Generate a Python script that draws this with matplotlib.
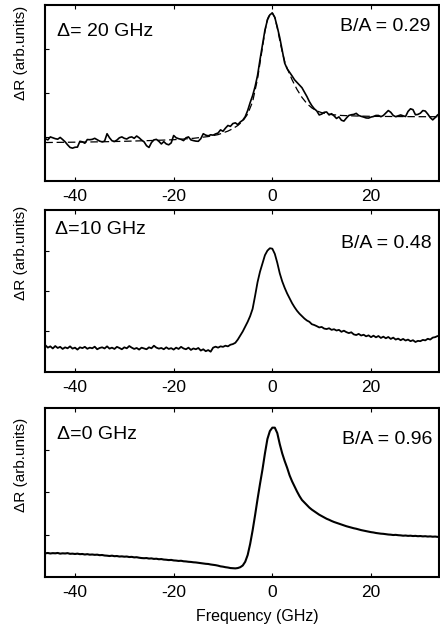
import numpy as np
import matplotlib
matplotlib.use('Agg')
import matplotlib.pyplot as plt
import matplotlib.transforms as mtransforms

plt.rcParams['font.family'] = ['Liberation Sans', 'DejaVu Sans']

# frequency grid of the traces [GHz]
freq = [
    -46.0, -45.5, -45.0, -44.5, -44.0, -43.5, -43.0, -42.5, -42.0, -41.5,
    -41.0, -40.5, -40.0, -39.5, -39.0, -38.5, -38.0, -37.5, -37.0, -36.5,
    -36.0, -35.5, -35.0, -34.5, -34.0, -33.5, -33.0, -32.5, -32.0, -31.5,
    -31.0, -30.5, -30.0, -29.5, -29.0, -28.5, -28.0, -27.5, -27.0, -26.5,
    -26.0, -25.5, -25.0, -24.5, -24.0, -23.5, -23.0, -22.5, -22.0, -21.5,
    -21.0, -20.5, -20.0, -19.5, -19.0, -18.5, -18.0, -17.5, -17.0, -16.5,
    -16.0, -15.5, -15.0, -14.5, -14.0, -13.5, -13.0, -12.5, -12.0, -11.5,
    -11.0, -10.5, -10.0, -9.5, -9.0, -8.5, -8.0, -7.5, -7.0, -6.5,
    -6.0, -5.5, -5.0, -4.5, -4.0, -3.5, -3.0, -2.5, -2.0, -1.5,
    -1.0, -0.5, 0.0, 0.5, 1.0, 1.5, 2.0, 2.5, 3.0, 3.5,
    4.0, 4.5, 5.0, 5.5, 6.0, 6.5, 7.0, 7.5, 8.0, 8.5,
    9.0, 9.5, 10.0, 10.5, 11.0, 11.5, 12.0, 12.5, 13.0, 13.5,
    14.0, 14.5, 15.0, 15.5, 16.0, 16.5, 17.0, 17.5, 18.0, 18.5,
    19.0, 19.5, 20.0, 20.5, 21.0, 21.5, 22.0, 22.5, 23.0, 23.5,
    24.0, 24.5, 25.0, 25.5, 26.0, 26.5, 27.0, 27.5, 28.0, 28.5,
    29.0, 29.5, 30.0, 30.5, 31.0, 31.5, 32.0, 32.5, 33.0, 33.5,
    34.0]

# Delta = 20 GHz, measured
dR_20 = [
    0.240, 0.233, 0.250, 0.245, 0.240, 0.237, 0.247, 0.235, 0.222, 0.205,
    0.190, 0.186, 0.191, 0.192, 0.225, 0.222, 0.214, 0.235, 0.234, 0.236,
    0.242, 0.234, 0.226, 0.222, 0.226, 0.268, 0.245, 0.228, 0.224, 0.232,
    0.245, 0.250, 0.242, 0.238, 0.247, 0.250, 0.242, 0.255, 0.245, 0.232,
    0.222, 0.200, 0.190, 0.218, 0.233, 0.236, 0.225, 0.210, 0.223, 0.210,
    0.205, 0.216, 0.258, 0.245, 0.240, 0.236, 0.229, 0.245, 0.250, 0.233,
    0.229, 0.226, 0.225, 0.240, 0.268, 0.260, 0.256, 0.262, 0.260, 0.267,
    0.272, 0.290, 0.282, 0.300, 0.315, 0.310, 0.326, 0.330, 0.320, 0.335,
    0.345, 0.365, 0.400, 0.445, 0.485, 0.536, 0.600, 0.690, 0.775, 0.858,
    0.915, 0.945, 0.955, 0.930, 0.875, 0.815, 0.744, 0.670, 0.638, 0.618,
    0.597, 0.575, 0.560, 0.545, 0.530, 0.505, 0.480, 0.451, 0.428, 0.410,
    0.398, 0.375, 0.380, 0.390, 0.392, 0.375, 0.382, 0.370, 0.355, 0.364,
    0.345, 0.340, 0.357, 0.372, 0.376, 0.378, 0.384, 0.372, 0.367, 0.363,
    0.358, 0.357, 0.363, 0.366, 0.372, 0.372, 0.365, 0.372, 0.386, 0.400,
    0.390, 0.372, 0.365, 0.370, 0.375, 0.370, 0.366, 0.395, 0.410, 0.405,
    0.376, 0.378, 0.385, 0.400, 0.397, 0.380, 0.360, 0.347, 0.360, 0.375,
    0.384]

# Delta = 20 GHz, fit (dashed)
fit_freq = [-46, -40, -35, -30, -25, -20, -16, -13, -11, -9, -8, -7, -6, -5,
            -4, -3, -2.5, -2, -1.5, -1, -0.5, 0, 0.5, 1, 1.5, 2, 2.5, 3, 4,
            5, 6, 7, 8, 9, 10, 12, 14, 17, 20, 25, 30, 34]
fit_20 = [0.218, 0.220, 0.222, 0.225, 0.229, 0.234, 0.242, 0.252, 0.263,
          0.283, 0.297, 0.315, 0.340, 0.380, 0.450, 0.580, 0.670, 0.760,
          0.850, 0.920, 0.952, 0.955, 0.930, 0.870, 0.800, 0.735, 0.680,
          0.640, 0.575, 0.520, 0.475, 0.440, 0.415, 0.398, 0.388, 0.377,
          0.372, 0.369, 0.367, 0.366, 0.365, 0.365]

# Delta = 10 GHz, measured
dR_10 = [
    0.165, 0.150, 0.158, 0.145, 0.160, 0.148, 0.155, 0.142, 0.152, 0.146,
    0.158, 0.144, 0.150, 0.138, 0.152, 0.147, 0.155, 0.143, 0.150, 0.146,
    0.156, 0.140, 0.148, 0.152, 0.145, 0.158, 0.144, 0.150, 0.142, 0.155,
    0.148, 0.140, 0.152, 0.146, 0.160, 0.150, 0.142, 0.148, 0.138, 0.150,
    0.145, 0.140, 0.152, 0.146, 0.162, 0.150, 0.144, 0.148, 0.140, 0.152,
    0.142, 0.147, 0.138, 0.150, 0.142, 0.155, 0.145, 0.140, 0.150, 0.136,
    0.145, 0.140, 0.148, 0.132, 0.140, 0.128, 0.135, 0.125, 0.150, 0.156,
    0.150, 0.158, 0.155, 0.162, 0.158, 0.168, 0.172, 0.180, 0.200, 0.225,
    0.250, 0.280, 0.310, 0.345, 0.390, 0.470, 0.555, 0.620, 0.670, 0.722,
    0.750, 0.765, 0.762, 0.730, 0.675, 0.610, 0.560, 0.520, 0.485, 0.455,
    0.425, 0.400, 0.378, 0.360, 0.345, 0.330, 0.318, 0.310, 0.295, 0.290,
    0.283, 0.275, 0.278, 0.268, 0.265, 0.270, 0.260, 0.264, 0.256, 0.260,
    0.248, 0.255, 0.246, 0.240, 0.245, 0.232, 0.228, 0.235, 0.225, 0.230,
    0.220, 0.226, 0.215, 0.224, 0.214, 0.222, 0.210, 0.218, 0.208, 0.216,
    0.204, 0.212, 0.200, 0.206, 0.196, 0.204, 0.194, 0.200, 0.190, 0.196,
    0.185, 0.192, 0.190, 0.198, 0.195, 0.205, 0.200, 0.212, 0.215, 0.222,
    0.218]

# Delta = 0 GHz, measured
dR_0 = [
    0.140, 0.142, 0.139, 0.141, 0.140, 0.142, 0.138, 0.140, 0.139, 0.141,
    0.137, 0.138, 0.136, 0.138, 0.135, 0.136, 0.133, 0.135, 0.132, 0.133,
    0.131, 0.132, 0.129, 0.130, 0.127, 0.126, 0.124, 0.126, 0.123, 0.124,
    0.121, 0.122, 0.120, 0.121, 0.118, 0.119, 0.116, 0.117, 0.114, 0.112,
    0.111, 0.112, 0.109, 0.110, 0.107, 0.108, 0.105, 0.106, 0.103, 0.102,
    0.100, 0.101, 0.098, 0.097, 0.095, 0.096, 0.093, 0.092, 0.090, 0.089,
    0.087, 0.086, 0.084, 0.082, 0.080, 0.078, 0.077, 0.074, 0.072, 0.070,
    0.067, 0.063, 0.061, 0.058, 0.056, 0.053, 0.052, 0.051, 0.053, 0.058,
    0.068, 0.090, 0.130, 0.195, 0.275, 0.365, 0.460, 0.550, 0.635, 0.730,
    0.815, 0.862, 0.882, 0.882, 0.850, 0.785, 0.730, 0.685, 0.645, 0.600,
    0.565, 0.535, 0.505, 0.478, 0.455, 0.440, 0.425, 0.410, 0.398, 0.388,
    0.378, 0.368, 0.360, 0.352, 0.344, 0.338, 0.331, 0.325, 0.320, 0.315,
    0.310, 0.305, 0.300, 0.296, 0.292, 0.288, 0.285, 0.281, 0.277, 0.274,
    0.271, 0.268, 0.265, 0.263, 0.260, 0.258, 0.256, 0.255, 0.253, 0.251,
    0.250, 0.248, 0.249, 0.247, 0.246, 0.244, 0.245, 0.243, 0.244, 0.242,
    0.243, 0.241, 0.242, 0.240, 0.241, 0.239, 0.240, 0.238, 0.239, 0.237,
    0.238]

detuning_labels = ['\u0394= 20 GHz', '\u0394=10 GHz', '\u0394=0 GHz']
ratio_labels = ['B/A = 0.29', 'B/A = 0.48', 'B/A = 0.96']
xticks = [-40, -20, 0, 20]


fig = plt.figure(figsize=(4.40, 6.39), dpi=100)

# axes boxes [left, bottom, width, height] in figure fraction
boxes = [[0.102, 0.717, 0.896, 0.275],
         [0.102, 0.418, 0.896, 0.253],
         [0.102, 0.097, 0.896, 0.265]]
ax = [fig.add_axes(b) for b in boxes]

ax[0].plot(freq, dR_20, color='black', lw=1.2)
ax[0].plot(fit_freq, fit_20, color='black', lw=0.9, linestyle=(0, (6, 3)))
ax[1].plot(freq, dR_10, color='black', lw=1.3)
ax[2].plot(freq, dR_0, color='black', lw=1.5)

# text positions (axes fraction)
det_pos = [(0.030, 0.848), (0.025, 0.883), (0.030, 0.840)]
ratio_pos = [(0.977, 0.877), (0.980, 0.796), (0.982, 0.810)]
label_y = [0.727, 0.735, 0.660]

# minus sign hangs to the left of the tick
shift = mtransforms.ScaledTranslation(-6 / 100, 0, fig.dpi_scale_trans)

for i, _ax in enumerate(ax):
    _ax.set_xlim(-46.1, 33.8)
    _ax.set_ylim(0, 1)
    _ax.set_xticks(xticks)
    _ax.set_xticklabels([str(t) for t in xticks], fontsize=12.5)
    for t, lab in zip(xticks, _ax.get_xticklabels()):
        if t < 0:
            lab.set_transform(lab.get_transform() + shift)
    _ax.set_yticks([0.25, 0.5, 0.75])
    _ax.set_yticklabels([])
    _ax.tick_params(axis='x', direction='in', top=True, length=3, width=0.8, pad=6)
    _ax.tick_params(axis='y', direction='in', length=3, width=0.8)
    for sp in _ax.spines.values():
        sp.set_linewidth(1.5)
    _ax.text(det_pos[i][0], det_pos[i][1], detuning_labels[i], transform=_ax.transAxes,
             ha='left', va='center', fontsize=14)
    _ax.text(ratio_pos[i][0], ratio_pos[i][1], ratio_labels[i], transform=_ax.transAxes,
             ha='right', va='center', fontsize=14)
    _ax.set_ylabel('\u0394R (arb.units)', fontsize=11)
    _ax.yaxis.set_label_coords(-0.042, label_y[i])

ax[2].set_xlabel('Frequency (GHz)', fontsize=11.5)
ax[2].xaxis.set_label_coords(0.538, -0.19)

fig.savefig('out.png', dpi=100)
